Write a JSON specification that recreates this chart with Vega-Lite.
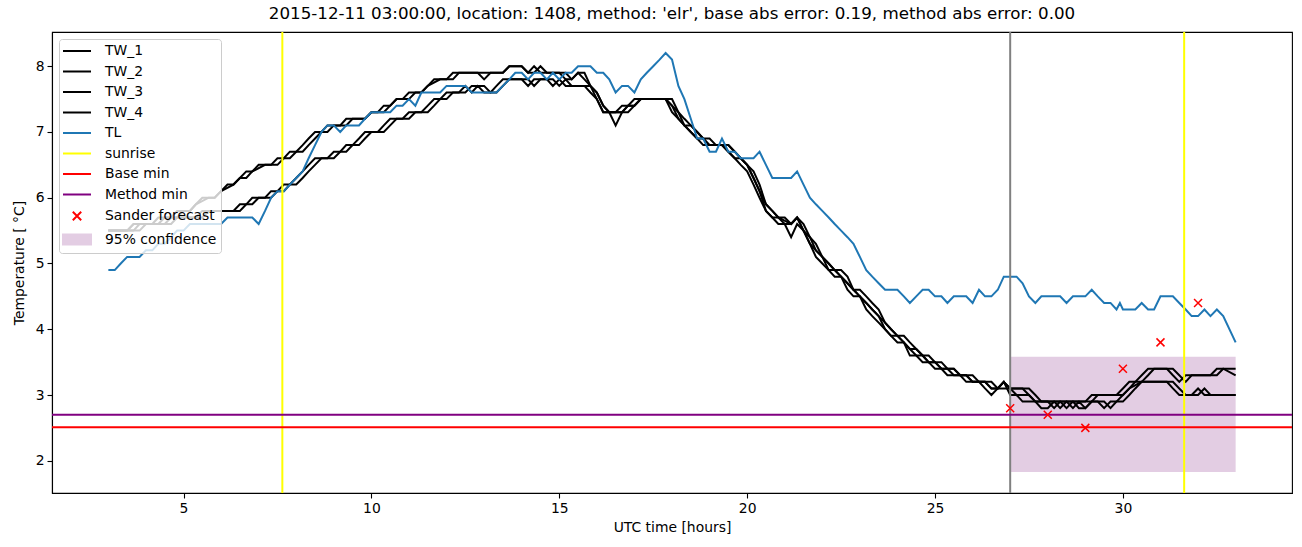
{
  "$schema": "https://vega.github.io/schema/vega-lite/v6.json",
  "width": 1240,
  "height": 461,
  "autosize": {"type": "none"},
  "padding": {"left": 52, "top": 32, "right": 10, "bottom": 54},
  "background": "white",
  "title": {
    "text": "2015-12-11 03:00:00, location: 1408, method: 'elr', base abs error: 0.19, method abs error: 0.00",
    "font": "DejaVu Sans", "fontSize": 16.7, "fontWeight": "normal", "color": "black", "anchor": "middle", "offset": 8
  },
  "config": {
    "view": {"stroke": "black", "strokeWidth": 1.1},
    "axis": {
      "grid": false, "domainColor": "black", "domainWidth": 1.1, "tickColor": "black", "tickWidth": 1.1, "tickSize": 5,
      "labelFont": "DejaVu Sans", "labelFontSize": 13.9, "labelColor": "black", "labelPadding": 3,
      "titleFont": "DejaVu Sans", "titleFontSize": 13.9, "titleFontWeight": "normal", "titleColor": "black"
    },
    "legend": {
      "labelFont": "DejaVu Sans", "labelFontSize": 13.9, "labelColor": "black"
    }
  },
  "datasets": {
    "series": [
      {"label":"TW_1","t":3.0,"v":5.5},{"label":"TW_1","t":3.5,"v":5.5},{"label":"TW_1","t":3.67,"v":5.6},{"label":"TW_1","t":4.17,"v":5.6},{"label":"TW_1","t":4.33,"v":5.7},{"label":"TW_1","t":4.67,"v":5.7},{"label":"TW_1","t":4.83,"v":5.8},{"label":"TW_1","t":5.17,"v":5.8},{"label":"TW_1","t":5.33,"v":5.9},{"label":"TW_1","t":5.5,"v":6.0},{"label":"TW_1","t":5.83,"v":6.0},{"label":"TW_1","t":6.0,"v":6.1},{"label":"TW_1","t":6.17,"v":6.2},{"label":"TW_1","t":6.33,"v":6.2},{"label":"TW_1","t":6.5,"v":6.3},{"label":"TW_1","t":6.67,"v":6.4},{"label":"TW_1","t":6.83,"v":6.4},{"label":"TW_1","t":7.0,"v":6.5},{"label":"TW_1","t":7.33,"v":6.5},{"label":"TW_1","t":7.5,"v":6.6},{"label":"TW_1","t":7.67,"v":6.6},{"label":"TW_1","t":7.83,"v":6.7},{"label":"TW_1","t":8.0,"v":6.7},{"label":"TW_1","t":8.17,"v":6.8},{"label":"TW_1","t":8.33,"v":6.9},{"label":"TW_1","t":8.5,"v":7.0},{"label":"TW_1","t":8.67,"v":7.0},{"label":"TW_1","t":8.83,"v":7.1},{"label":"TW_1","t":9.17,"v":7.1},{"label":"TW_1","t":9.33,"v":7.2},{"label":"TW_1","t":9.83,"v":7.2},{"label":"TW_1","t":10.0,"v":7.3},{"label":"TW_1","t":10.17,"v":7.3},{"label":"TW_1","t":10.33,"v":7.4},{"label":"TW_1","t":10.5,"v":7.4},{"label":"TW_1","t":10.67,"v":7.5},{"label":"TW_1","t":10.83,"v":7.5},{"label":"TW_1","t":11.0,"v":7.6},{"label":"TW_1","t":11.33,"v":7.6},{"label":"TW_1","t":11.5,"v":7.7},{"label":"TW_1","t":11.67,"v":7.8},{"label":"TW_1","t":12.0,"v":7.8},{"label":"TW_1","t":12.17,"v":7.9},{"label":"TW_1","t":12.83,"v":7.9},{"label":"TW_1","t":13.0,"v":7.8},{"label":"TW_1","t":13.17,"v":7.9},{"label":"TW_1","t":13.5,"v":7.9},{"label":"TW_1","t":13.67,"v":8.0},{"label":"TW_1","t":14.0,"v":8.0},{"label":"TW_1","t":14.17,"v":7.9},{"label":"TW_1","t":14.33,"v":7.9},{"label":"TW_1","t":14.5,"v":8.0},{"label":"TW_1","t":14.67,"v":7.9},{"label":"TW_1","t":15.0,"v":7.9},{"label":"TW_1","t":15.17,"v":7.8},{"label":"TW_1","t":15.33,"v":7.8},{"label":"TW_1","t":15.5,"v":7.9},{"label":"TW_1","t":15.67,"v":7.9},{"label":"TW_1","t":15.83,"v":7.7},{"label":"TW_1","t":16.0,"v":7.5},{"label":"TW_1","t":16.17,"v":7.3},{"label":"TW_1","t":16.5,"v":7.3},{"label":"TW_1","t":16.67,"v":7.4},{"label":"TW_1","t":16.83,"v":7.4},{"label":"TW_1","t":17.0,"v":7.5},{"label":"TW_1","t":17.83,"v":7.5},{"label":"TW_1","t":18.0,"v":7.3},{"label":"TW_1","t":18.17,"v":7.2},{"label":"TW_1","t":18.33,"v":7.1},{"label":"TW_1","t":18.5,"v":7.0},{"label":"TW_1","t":18.67,"v":6.9},{"label":"TW_1","t":18.83,"v":6.9},{"label":"TW_1","t":19.0,"v":6.8},{"label":"TW_1","t":19.33,"v":6.8},{"label":"TW_1","t":19.5,"v":6.7},{"label":"TW_1","t":19.67,"v":6.6},{"label":"TW_1","t":19.83,"v":6.6},{"label":"TW_1","t":20.0,"v":6.5},{"label":"TW_1","t":20.17,"v":6.3},{"label":"TW_1","t":20.33,"v":6.1},{"label":"TW_1","t":20.5,"v":5.8},{"label":"TW_1","t":20.67,"v":5.7},{"label":"TW_1","t":20.83,"v":5.7},{"label":"TW_1","t":21.0,"v":5.6},{"label":"TW_1","t":21.17,"v":5.6},{"label":"TW_1","t":21.33,"v":5.7},{"label":"TW_1","t":21.5,"v":5.5},{"label":"TW_1","t":21.67,"v":5.3},{"label":"TW_1","t":21.83,"v":5.2},{"label":"TW_1","t":22.0,"v":5.1},{"label":"TW_1","t":22.17,"v":4.9},{"label":"TW_1","t":22.33,"v":4.9},{"label":"TW_1","t":22.5,"v":4.8},{"label":"TW_1","t":22.67,"v":4.7},{"label":"TW_1","t":22.83,"v":4.6},{"label":"TW_1","t":23.0,"v":4.5},{"label":"TW_1","t":23.17,"v":4.4},{"label":"TW_1","t":23.33,"v":4.3},{"label":"TW_1","t":23.5,"v":4.2},{"label":"TW_1","t":23.67,"v":4.0},{"label":"TW_1","t":23.83,"v":3.9},{"label":"TW_1","t":24.0,"v":3.9},{"label":"TW_1","t":24.17,"v":3.8},{"label":"TW_1","t":24.33,"v":3.7},{"label":"TW_1","t":24.5,"v":3.6},{"label":"TW_1","t":24.67,"v":3.6},{"label":"TW_1","t":24.83,"v":3.5},{"label":"TW_1","t":25.0,"v":3.5},{"label":"TW_1","t":25.17,"v":3.4},{"label":"TW_1","t":25.33,"v":3.4},{"label":"TW_1","t":25.5,"v":3.3},{"label":"TW_1","t":25.83,"v":3.3},{"label":"TW_1","t":26.0,"v":3.2},{"label":"TW_1","t":26.33,"v":3.2},{"label":"TW_1","t":26.5,"v":3.1},{"label":"TW_1","t":26.67,"v":3.1},{"label":"TW_1","t":26.83,"v":3.2},{"label":"TW_1","t":27.0,"v":3.1},{"label":"TW_1","t":27.33,"v":3.1},{"label":"TW_1","t":27.5,"v":3.0},{"label":"TW_1","t":27.67,"v":2.9},{"label":"TW_1","t":28.17,"v":2.9},{"label":"TW_1","t":28.33,"v":2.8},{"label":"TW_1","t":28.5,"v":2.9},{"label":"TW_1","t":29.0,"v":2.9},{"label":"TW_1","t":29.17,"v":3.0},{"label":"TW_1","t":29.83,"v":3.0},{"label":"TW_1","t":30.0,"v":3.1},{"label":"TW_1","t":30.17,"v":3.2},{"label":"TW_1","t":30.33,"v":3.2},{"label":"TW_1","t":30.5,"v":3.3},{"label":"TW_1","t":30.67,"v":3.4},{"label":"TW_1","t":31.17,"v":3.4},{"label":"TW_1","t":31.33,"v":3.3},{"label":"TW_1","t":31.5,"v":3.2},{"label":"TW_1","t":31.67,"v":3.3},{"label":"TW_1","t":32.33,"v":3.3},{"label":"TW_1","t":32.5,"v":3.4},{"label":"TW_1","t":32.83,"v":3.4},{"label":"TW_1","t":33.0,"v":3.4},

      {"label":"TW_2","t":3.0,"v":5.5},{"label":"TW_2","t":3.5,"v":5.5},{"label":"TW_2","t":3.67,"v":5.6},{"label":"TW_2","t":4.33,"v":5.6},{"label":"TW_2","t":4.5,"v":5.7},{"label":"TW_2","t":4.83,"v":5.7},{"label":"TW_2","t":5.0,"v":5.8},{"label":"TW_2","t":5.17,"v":5.8},{"label":"TW_2","t":5.33,"v":5.9},{"label":"TW_2","t":5.67,"v":6.0},{"label":"TW_2","t":5.83,"v":6.0},{"label":"TW_2","t":6.0,"v":6.1},{"label":"TW_2","t":6.33,"v":6.2},{"label":"TW_2","t":6.5,"v":6.3},{"label":"TW_2","t":6.67,"v":6.3},{"label":"TW_2","t":6.83,"v":6.4},{"label":"TW_2","t":7.17,"v":6.5},{"label":"TW_2","t":7.5,"v":6.5},{"label":"TW_2","t":7.67,"v":6.6},{"label":"TW_2","t":7.83,"v":6.6},{"label":"TW_2","t":8.0,"v":6.7},{"label":"TW_2","t":8.17,"v":6.7},{"label":"TW_2","t":8.33,"v":6.8},{"label":"TW_2","t":8.5,"v":6.9},{"label":"TW_2","t":8.67,"v":7.0},{"label":"TW_2","t":8.83,"v":7.0},{"label":"TW_2","t":9.0,"v":7.1},{"label":"TW_2","t":9.33,"v":7.1},{"label":"TW_2","t":9.5,"v":7.2},{"label":"TW_2","t":9.83,"v":7.2},{"label":"TW_2","t":10.0,"v":7.3},{"label":"TW_2","t":10.33,"v":7.3},{"label":"TW_2","t":10.5,"v":7.4},{"label":"TW_2","t":10.67,"v":7.5},{"label":"TW_2","t":11.0,"v":7.5},{"label":"TW_2","t":11.17,"v":7.6},{"label":"TW_2","t":11.33,"v":7.6},{"label":"TW_2","t":11.5,"v":7.7},{"label":"TW_2","t":11.83,"v":7.8},{"label":"TW_2","t":12.17,"v":7.8},{"label":"TW_2","t":12.33,"v":7.9},{"label":"TW_2","t":13.5,"v":7.9},{"label":"TW_2","t":13.67,"v":8.0},{"label":"TW_2","t":14.0,"v":8.0},{"label":"TW_2","t":14.17,"v":7.9},{"label":"TW_2","t":14.33,"v":8.0},{"label":"TW_2","t":14.5,"v":7.9},{"label":"TW_2","t":15.17,"v":7.9},{"label":"TW_2","t":15.33,"v":7.8},{"label":"TW_2","t":15.5,"v":7.9},{"label":"TW_2","t":15.67,"v":7.8},{"label":"TW_2","t":15.83,"v":7.7},{"label":"TW_2","t":16.0,"v":7.6},{"label":"TW_2","t":16.17,"v":7.4},{"label":"TW_2","t":16.33,"v":7.3},{"label":"TW_2","t":16.67,"v":7.3},{"label":"TW_2","t":16.83,"v":7.4},{"label":"TW_2","t":17.0,"v":7.4},{"label":"TW_2","t":17.17,"v":7.5},{"label":"TW_2","t":17.83,"v":7.5},{"label":"TW_2","t":18.0,"v":7.4},{"label":"TW_2","t":18.17,"v":7.3},{"label":"TW_2","t":18.33,"v":7.1},{"label":"TW_2","t":18.5,"v":7.1},{"label":"TW_2","t":18.67,"v":7.0},{"label":"TW_2","t":18.83,"v":6.9},{"label":"TW_2","t":19.0,"v":6.9},{"label":"TW_2","t":19.17,"v":6.8},{"label":"TW_2","t":19.5,"v":6.8},{"label":"TW_2","t":19.67,"v":6.7},{"label":"TW_2","t":19.83,"v":6.6},{"label":"TW_2","t":20.0,"v":6.5},{"label":"TW_2","t":20.17,"v":6.4},{"label":"TW_2","t":20.33,"v":6.2},{"label":"TW_2","t":20.5,"v":5.9},{"label":"TW_2","t":20.67,"v":5.8},{"label":"TW_2","t":20.83,"v":5.7},{"label":"TW_2","t":21.0,"v":5.7},{"label":"TW_2","t":21.17,"v":5.6},{"label":"TW_2","t":21.33,"v":5.7},{"label":"TW_2","t":21.5,"v":5.6},{"label":"TW_2","t":21.67,"v":5.4},{"label":"TW_2","t":21.83,"v":5.3},{"label":"TW_2","t":22.0,"v":5.1},{"label":"TW_2","t":22.17,"v":5.0},{"label":"TW_2","t":22.33,"v":4.9},{"label":"TW_2","t":22.5,"v":4.9},{"label":"TW_2","t":22.67,"v":4.8},{"label":"TW_2","t":22.83,"v":4.6},{"label":"TW_2","t":23.0,"v":4.6},{"label":"TW_2","t":23.17,"v":4.5},{"label":"TW_2","t":23.33,"v":4.4},{"label":"TW_2","t":23.5,"v":4.3},{"label":"TW_2","t":23.67,"v":4.1},{"label":"TW_2","t":23.83,"v":4.0},{"label":"TW_2","t":24.0,"v":3.9},{"label":"TW_2","t":24.17,"v":3.9},{"label":"TW_2","t":24.33,"v":3.8},{"label":"TW_2","t":24.5,"v":3.7},{"label":"TW_2","t":24.67,"v":3.6},{"label":"TW_2","t":24.83,"v":3.6},{"label":"TW_2","t":25.0,"v":3.5},{"label":"TW_2","t":25.17,"v":3.5},{"label":"TW_2","t":25.33,"v":3.4},{"label":"TW_2","t":25.5,"v":3.4},{"label":"TW_2","t":25.67,"v":3.3},{"label":"TW_2","t":26.0,"v":3.3},{"label":"TW_2","t":26.17,"v":3.2},{"label":"TW_2","t":26.5,"v":3.2},{"label":"TW_2","t":26.67,"v":3.1},{"label":"TW_2","t":26.83,"v":3.2},{"label":"TW_2","t":27.0,"v":3.1},{"label":"TW_2","t":27.5,"v":3.1},{"label":"TW_2","t":27.67,"v":3.0},{"label":"TW_2","t":27.83,"v":2.9},{"label":"TW_2","t":28.33,"v":2.9},{"label":"TW_2","t":28.5,"v":2.8},{"label":"TW_2","t":28.67,"v":2.9},{"label":"TW_2","t":29.17,"v":2.9},{"label":"TW_2","t":29.33,"v":3.0},{"label":"TW_2","t":30.0,"v":3.0},{"label":"TW_2","t":30.17,"v":3.1},{"label":"TW_2","t":30.33,"v":3.2},{"label":"TW_2","t":30.5,"v":3.2},{"label":"TW_2","t":30.67,"v":3.3},{"label":"TW_2","t":30.83,"v":3.4},{"label":"TW_2","t":31.33,"v":3.4},{"label":"TW_2","t":31.5,"v":3.3},{"label":"TW_2","t":31.67,"v":3.2},{"label":"TW_2","t":31.83,"v":3.3},{"label":"TW_2","t":32.5,"v":3.3},{"label":"TW_2","t":32.67,"v":3.4},{"label":"TW_2","t":33.0,"v":3.3},

      {"label":"TW_3","t":3.0,"v":5.5},{"label":"TW_3","t":3.67,"v":5.5},{"label":"TW_3","t":3.83,"v":5.6},{"label":"TW_3","t":4.5,"v":5.6},{"label":"TW_3","t":4.67,"v":5.7},{"label":"TW_3","t":5.33,"v":5.7},{"label":"TW_3","t":5.5,"v":5.8},{"label":"TW_3","t":6.33,"v":5.8},{"label":"TW_3","t":6.5,"v":5.9},{"label":"TW_3","t":6.67,"v":5.9},{"label":"TW_3","t":6.83,"v":6.0},{"label":"TW_3","t":7.17,"v":6.0},{"label":"TW_3","t":7.33,"v":6.1},{"label":"TW_3","t":7.5,"v":6.1},{"label":"TW_3","t":7.67,"v":6.2},{"label":"TW_3","t":7.83,"v":6.2},{"label":"TW_3","t":8.0,"v":6.3},{"label":"TW_3","t":8.17,"v":6.4},{"label":"TW_3","t":8.33,"v":6.5},{"label":"TW_3","t":8.5,"v":6.6},{"label":"TW_3","t":8.83,"v":6.6},{"label":"TW_3","t":9.0,"v":6.7},{"label":"TW_3","t":9.17,"v":6.7},{"label":"TW_3","t":9.33,"v":6.8},{"label":"TW_3","t":9.5,"v":6.8},{"label":"TW_3","t":9.67,"v":6.9},{"label":"TW_3","t":9.83,"v":7.0},{"label":"TW_3","t":10.17,"v":7.0},{"label":"TW_3","t":10.33,"v":7.1},{"label":"TW_3","t":10.5,"v":7.2},{"label":"TW_3","t":10.83,"v":7.2},{"label":"TW_3","t":11.0,"v":7.3},{"label":"TW_3","t":11.33,"v":7.3},{"label":"TW_3","t":11.5,"v":7.4},{"label":"TW_3","t":11.67,"v":7.5},{"label":"TW_3","t":11.83,"v":7.5},{"label":"TW_3","t":12.0,"v":7.6},{"label":"TW_3","t":12.33,"v":7.6},{"label":"TW_3","t":12.5,"v":7.7},{"label":"TW_3","t":12.67,"v":7.6},{"label":"TW_3","t":12.83,"v":7.7},{"label":"TW_3","t":13.0,"v":7.6},{"label":"TW_3","t":13.17,"v":7.6},{"label":"TW_3","t":13.33,"v":7.7},{"label":"TW_3","t":13.5,"v":7.8},{"label":"TW_3","t":14.0,"v":7.8},{"label":"TW_3","t":14.17,"v":7.7},{"label":"TW_3","t":14.33,"v":7.8},{"label":"TW_3","t":14.83,"v":7.8},{"label":"TW_3","t":15.0,"v":7.7},{"label":"TW_3","t":15.17,"v":7.8},{"label":"TW_3","t":15.33,"v":7.7},{"label":"TW_3","t":15.67,"v":7.7},{"label":"TW_3","t":15.83,"v":7.6},{"label":"TW_3","t":16.0,"v":7.5},{"label":"TW_3","t":16.17,"v":7.3},{"label":"TW_3","t":16.33,"v":7.3},{"label":"TW_3","t":16.5,"v":7.1},{"label":"TW_3","t":16.67,"v":7.3},{"label":"TW_3","t":16.83,"v":7.4},{"label":"TW_3","t":17.0,"v":7.4},{"label":"TW_3","t":17.17,"v":7.5},{"label":"TW_3","t":17.83,"v":7.5},{"label":"TW_3","t":18.0,"v":7.4},{"label":"TW_3","t":18.17,"v":7.2},{"label":"TW_3","t":18.33,"v":7.1},{"label":"TW_3","t":18.5,"v":7.0},{"label":"TW_3","t":18.67,"v":6.9},{"label":"TW_3","t":18.83,"v":6.8},{"label":"TW_3","t":19.33,"v":6.8},{"label":"TW_3","t":19.5,"v":6.7},{"label":"TW_3","t":19.67,"v":6.6},{"label":"TW_3","t":19.83,"v":6.5},{"label":"TW_3","t":20.0,"v":6.4},{"label":"TW_3","t":20.17,"v":6.2},{"label":"TW_3","t":20.33,"v":6.0},{"label":"TW_3","t":20.5,"v":5.8},{"label":"TW_3","t":20.67,"v":5.7},{"label":"TW_3","t":20.83,"v":5.6},{"label":"TW_3","t":21.0,"v":5.6},{"label":"TW_3","t":21.17,"v":5.4},{"label":"TW_3","t":21.33,"v":5.6},{"label":"TW_3","t":21.5,"v":5.5},{"label":"TW_3","t":21.67,"v":5.3},{"label":"TW_3","t":21.83,"v":5.1},{"label":"TW_3","t":22.0,"v":5.0},{"label":"TW_3","t":22.17,"v":4.9},{"label":"TW_3","t":22.33,"v":4.8},{"label":"TW_3","t":22.5,"v":4.8},{"label":"TW_3","t":22.67,"v":4.6},{"label":"TW_3","t":22.83,"v":4.5},{"label":"TW_3","t":23.0,"v":4.5},{"label":"TW_3","t":23.17,"v":4.3},{"label":"TW_3","t":23.33,"v":4.2},{"label":"TW_3","t":23.5,"v":4.1},{"label":"TW_3","t":23.67,"v":4.0},{"label":"TW_3","t":23.83,"v":3.9},{"label":"TW_3","t":24.0,"v":3.8},{"label":"TW_3","t":24.17,"v":3.8},{"label":"TW_3","t":24.33,"v":3.6},{"label":"TW_3","t":24.5,"v":3.6},{"label":"TW_3","t":24.67,"v":3.5},{"label":"TW_3","t":24.83,"v":3.5},{"label":"TW_3","t":25.0,"v":3.4},{"label":"TW_3","t":25.17,"v":3.4},{"label":"TW_3","t":25.33,"v":3.3},{"label":"TW_3","t":25.67,"v":3.3},{"label":"TW_3","t":25.83,"v":3.2},{"label":"TW_3","t":26.17,"v":3.2},{"label":"TW_3","t":26.33,"v":3.1},{"label":"TW_3","t":26.5,"v":3.0},{"label":"TW_3","t":26.67,"v":3.1},{"label":"TW_3","t":26.83,"v":3.2},{"label":"TW_3","t":27.0,"v":3.0},{"label":"TW_3","t":27.17,"v":3.0},{"label":"TW_3","t":27.33,"v":2.9},{"label":"TW_3","t":27.67,"v":2.9},{"label":"TW_3","t":27.83,"v":2.8},{"label":"TW_3","t":28.0,"v":2.8},{"label":"TW_3","t":28.17,"v":2.9},{"label":"TW_3","t":28.5,"v":2.9},{"label":"TW_3","t":28.67,"v":2.8},{"label":"TW_3","t":28.83,"v":2.9},{"label":"TW_3","t":29.0,"v":2.8},{"label":"TW_3","t":29.17,"v":2.9},{"label":"TW_3","t":29.33,"v":2.9},{"label":"TW_3","t":29.5,"v":2.8},{"label":"TW_3","t":29.67,"v":2.9},{"label":"TW_3","t":29.83,"v":2.9},{"label":"TW_3","t":30.0,"v":3.0},{"label":"TW_3","t":30.17,"v":3.1},{"label":"TW_3","t":30.5,"v":3.2},{"label":"TW_3","t":31.17,"v":3.2},{"label":"TW_3","t":31.33,"v":3.1},{"label":"TW_3","t":31.5,"v":3.0},{"label":"TW_3","t":31.83,"v":3.0},{"label":"TW_3","t":32.0,"v":3.1},{"label":"TW_3","t":32.17,"v":3.0},{"label":"TW_3","t":33.0,"v":3.0},

      {"label":"TW_4","t":3.0,"v":5.5},{"label":"TW_4","t":3.83,"v":5.5},{"label":"TW_4","t":4.0,"v":5.6},{"label":"TW_4","t":4.67,"v":5.6},{"label":"TW_4","t":4.83,"v":5.7},{"label":"TW_4","t":5.5,"v":5.7},{"label":"TW_4","t":5.67,"v":5.8},{"label":"TW_4","t":6.5,"v":5.8},{"label":"TW_4","t":6.67,"v":5.9},{"label":"TW_4","t":6.83,"v":5.9},{"label":"TW_4","t":7.0,"v":6.0},{"label":"TW_4","t":7.33,"v":6.0},{"label":"TW_4","t":7.5,"v":6.1},{"label":"TW_4","t":7.67,"v":6.1},{"label":"TW_4","t":7.83,"v":6.2},{"label":"TW_4","t":8.0,"v":6.2},{"label":"TW_4","t":8.17,"v":6.3},{"label":"TW_4","t":8.33,"v":6.4},{"label":"TW_4","t":8.5,"v":6.5},{"label":"TW_4","t":8.67,"v":6.6},{"label":"TW_4","t":9.0,"v":6.6},{"label":"TW_4","t":9.17,"v":6.7},{"label":"TW_4","t":9.33,"v":6.7},{"label":"TW_4","t":9.5,"v":6.8},{"label":"TW_4","t":9.67,"v":6.8},{"label":"TW_4","t":9.83,"v":6.9},{"label":"TW_4","t":10.0,"v":7.0},{"label":"TW_4","t":10.33,"v":7.0},{"label":"TW_4","t":10.5,"v":7.1},{"label":"TW_4","t":10.67,"v":7.2},{"label":"TW_4","t":11.0,"v":7.2},{"label":"TW_4","t":11.17,"v":7.3},{"label":"TW_4","t":11.5,"v":7.3},{"label":"TW_4","t":11.67,"v":7.4},{"label":"TW_4","t":11.83,"v":7.5},{"label":"TW_4","t":12.0,"v":7.5},{"label":"TW_4","t":12.17,"v":7.6},{"label":"TW_4","t":12.5,"v":7.6},{"label":"TW_4","t":12.67,"v":7.7},{"label":"TW_4","t":13.0,"v":7.7},{"label":"TW_4","t":13.17,"v":7.6},{"label":"TW_4","t":13.33,"v":7.6},{"label":"TW_4","t":13.5,"v":7.7},{"label":"TW_4","t":13.67,"v":7.8},{"label":"TW_4","t":14.17,"v":7.8},{"label":"TW_4","t":14.33,"v":7.7},{"label":"TW_4","t":14.5,"v":7.8},{"label":"TW_4","t":14.67,"v":7.8},{"label":"TW_4","t":14.83,"v":7.7},{"label":"TW_4","t":15.0,"v":7.8},{"label":"TW_4","t":15.17,"v":7.7},{"label":"TW_4","t":15.83,"v":7.7},{"label":"TW_4","t":16.0,"v":7.6},{"label":"TW_4","t":16.17,"v":7.4},{"label":"TW_4","t":16.33,"v":7.3},{"label":"TW_4","t":16.83,"v":7.3},{"label":"TW_4","t":17.0,"v":7.4},{"label":"TW_4","t":17.17,"v":7.5},{"label":"TW_4","t":18.0,"v":7.5},{"label":"TW_4","t":18.17,"v":7.3},{"label":"TW_4","t":18.33,"v":7.2},{"label":"TW_4","t":18.5,"v":7.1},{"label":"TW_4","t":18.67,"v":7.0},{"label":"TW_4","t":18.83,"v":6.9},{"label":"TW_4","t":19.0,"v":6.8},{"label":"TW_4","t":19.5,"v":6.8},{"label":"TW_4","t":19.67,"v":6.7},{"label":"TW_4","t":19.83,"v":6.6},{"label":"TW_4","t":20.0,"v":6.5},{"label":"TW_4","t":20.17,"v":6.3},{"label":"TW_4","t":20.33,"v":6.1},{"label":"TW_4","t":20.5,"v":5.9},{"label":"TW_4","t":20.67,"v":5.8},{"label":"TW_4","t":20.83,"v":5.7},{"label":"TW_4","t":21.17,"v":5.6},{"label":"TW_4","t":21.33,"v":5.7},{"label":"TW_4","t":21.5,"v":5.5},{"label":"TW_4","t":21.67,"v":5.4},{"label":"TW_4","t":21.83,"v":5.2},{"label":"TW_4","t":22.0,"v":5.1},{"label":"TW_4","t":22.17,"v":5.0},{"label":"TW_4","t":22.33,"v":4.9},{"label":"TW_4","t":22.5,"v":4.8},{"label":"TW_4","t":22.67,"v":4.7},{"label":"TW_4","t":22.83,"v":4.6},{"label":"TW_4","t":23.0,"v":4.5},{"label":"TW_4","t":23.17,"v":4.4},{"label":"TW_4","t":23.33,"v":4.3},{"label":"TW_4","t":23.5,"v":4.2},{"label":"TW_4","t":23.67,"v":4.1},{"label":"TW_4","t":23.83,"v":4.0},{"label":"TW_4","t":24.0,"v":3.9},{"label":"TW_4","t":24.17,"v":3.8},{"label":"TW_4","t":24.33,"v":3.7},{"label":"TW_4","t":24.5,"v":3.7},{"label":"TW_4","t":24.67,"v":3.6},{"label":"TW_4","t":24.83,"v":3.5},{"label":"TW_4","t":25.0,"v":3.5},{"label":"TW_4","t":25.17,"v":3.4},{"label":"TW_4","t":25.5,"v":3.4},{"label":"TW_4","t":25.67,"v":3.3},{"label":"TW_4","t":25.83,"v":3.3},{"label":"TW_4","t":26.0,"v":3.2},{"label":"TW_4","t":26.33,"v":3.2},{"label":"TW_4","t":26.5,"v":3.1},{"label":"TW_4","t":27.0,"v":3.1},{"label":"TW_4","t":27.17,"v":3.0},{"label":"TW_4","t":27.5,"v":3.0},{"label":"TW_4","t":27.67,"v":2.9},{"label":"TW_4","t":28.0,"v":2.9},{"label":"TW_4","t":28.17,"v":2.8},{"label":"TW_4","t":28.33,"v":2.9},{"label":"TW_4","t":28.67,"v":2.9},{"label":"TW_4","t":28.83,"v":2.8},{"label":"TW_4","t":29.0,"v":2.8},{"label":"TW_4","t":29.17,"v":2.9},{"label":"TW_4","t":29.5,"v":2.9},{"label":"TW_4","t":29.67,"v":2.8},{"label":"TW_4","t":29.83,"v":2.9},{"label":"TW_4","t":30.0,"v":2.9},{"label":"TW_4","t":30.17,"v":3.0},{"label":"TW_4","t":30.33,"v":3.1},{"label":"TW_4","t":30.5,"v":3.2},{"label":"TW_4","t":31.33,"v":3.2},{"label":"TW_4","t":31.5,"v":3.1},{"label":"TW_4","t":31.67,"v":3.0},{"label":"TW_4","t":32.0,"v":3.0},{"label":"TW_4","t":32.17,"v":3.1},{"label":"TW_4","t":32.33,"v":3.0},{"label":"TW_4","t":33.0,"v":3.0},

      {"label":"TL","t":3.0,"v":4.9},{"label":"TL","t":3.17,"v":4.9},{"label":"TL","t":3.33,"v":5.0},{"label":"TL","t":3.5,"v":5.1},{"label":"TL","t":3.83,"v":5.1},{"label":"TL","t":4.0,"v":5.2},{"label":"TL","t":4.17,"v":5.2},{"label":"TL","t":4.33,"v":5.3},{"label":"TL","t":4.5,"v":5.3},{"label":"TL","t":4.67,"v":5.4},{"label":"TL","t":4.83,"v":5.5},{"label":"TL","t":5.0,"v":5.5},{"label":"TL","t":5.17,"v":5.6},{"label":"TL","t":6.0,"v":5.6},{"label":"TL","t":6.17,"v":5.7},{"label":"TL","t":6.83,"v":5.7},{"label":"TL","t":7.0,"v":5.6},{"label":"TL","t":7.17,"v":5.8},{"label":"TL","t":7.33,"v":6.0},{"label":"TL","t":7.5,"v":6.1},{"label":"TL","t":7.67,"v":6.1},{"label":"TL","t":7.83,"v":6.2},{"label":"TL","t":8.0,"v":6.3},{"label":"TL","t":8.17,"v":6.4},{"label":"TL","t":8.33,"v":6.6},{"label":"TL","t":8.5,"v":6.8},{"label":"TL","t":8.67,"v":7.0},{"label":"TL","t":8.83,"v":7.1},{"label":"TL","t":9.0,"v":7.1},{"label":"TL","t":9.17,"v":7.0},{"label":"TL","t":9.33,"v":7.1},{"label":"TL","t":9.67,"v":7.1},{"label":"TL","t":9.83,"v":7.2},{"label":"TL","t":10.0,"v":7.3},{"label":"TL","t":10.5,"v":7.3},{"label":"TL","t":10.67,"v":7.4},{"label":"TL","t":10.83,"v":7.4},{"label":"TL","t":11.0,"v":7.5},{"label":"TL","t":11.17,"v":7.4},{"label":"TL","t":11.33,"v":7.6},{"label":"TL","t":11.83,"v":7.6},{"label":"TL","t":12.0,"v":7.7},{"label":"TL","t":12.5,"v":7.7},{"label":"TL","t":12.67,"v":7.6},{"label":"TL","t":13.33,"v":7.6},{"label":"TL","t":13.5,"v":7.7},{"label":"TL","t":13.67,"v":7.8},{"label":"TL","t":13.83,"v":7.9},{"label":"TL","t":14.0,"v":7.9},{"label":"TL","t":14.17,"v":7.8},{"label":"TL","t":14.33,"v":7.9},{"label":"TL","t":14.5,"v":7.9},{"label":"TL","t":14.67,"v":7.8},{"label":"TL","t":14.83,"v":7.9},{"label":"TL","t":15.0,"v":7.8},{"label":"TL","t":15.17,"v":7.9},{"label":"TL","t":15.33,"v":7.9},{"label":"TL","t":15.5,"v":8.0},{"label":"TL","t":15.83,"v":8.0},{"label":"TL","t":16.0,"v":7.9},{"label":"TL","t":16.17,"v":7.9},{"label":"TL","t":16.33,"v":7.8},{"label":"TL","t":16.5,"v":7.6},{"label":"TL","t":16.67,"v":7.7},{"label":"TL","t":16.83,"v":7.7},{"label":"TL","t":17.0,"v":7.6},{"label":"TL","t":17.17,"v":7.8},{"label":"TL","t":17.33,"v":7.9},{"label":"TL","t":17.5,"v":8.0},{"label":"TL","t":17.67,"v":8.1},{"label":"TL","t":17.83,"v":8.2},{"label":"TL","t":18.0,"v":8.1},{"label":"TL","t":18.17,"v":7.7},{"label":"TL","t":18.33,"v":7.5},{"label":"TL","t":18.5,"v":7.2},{"label":"TL","t":18.67,"v":6.9},{"label":"TL","t":18.83,"v":6.9},{"label":"TL","t":19.0,"v":6.7},{"label":"TL","t":19.17,"v":6.7},{"label":"TL","t":19.33,"v":6.9},{"label":"TL","t":19.5,"v":6.7},{"label":"TL","t":19.67,"v":6.7},{"label":"TL","t":19.83,"v":6.6},{"label":"TL","t":20.17,"v":6.6},{"label":"TL","t":20.33,"v":6.7},{"label":"TL","t":20.5,"v":6.5},{"label":"TL","t":20.67,"v":6.3},{"label":"TL","t":21.17,"v":6.3},{"label":"TL","t":21.33,"v":6.4},{"label":"TL","t":21.5,"v":6.2},{"label":"TL","t":21.67,"v":6.0},{"label":"TL","t":21.83,"v":5.9},{"label":"TL","t":22.0,"v":5.8},{"label":"TL","t":22.17,"v":5.7},{"label":"TL","t":22.33,"v":5.6},{"label":"TL","t":22.5,"v":5.5},{"label":"TL","t":22.67,"v":5.4},{"label":"TL","t":22.83,"v":5.3},{"label":"TL","t":23.0,"v":5.1},{"label":"TL","t":23.17,"v":4.9},{"label":"TL","t":23.33,"v":4.8},{"label":"TL","t":23.5,"v":4.7},{"label":"TL","t":23.67,"v":4.6},{"label":"TL","t":24.0,"v":4.6},{"label":"TL","t":24.17,"v":4.5},{"label":"TL","t":24.33,"v":4.4},{"label":"TL","t":24.5,"v":4.5},{"label":"TL","t":24.67,"v":4.6},{"label":"TL","t":24.83,"v":4.6},{"label":"TL","t":25.0,"v":4.5},{"label":"TL","t":25.17,"v":4.5},{"label":"TL","t":25.33,"v":4.4},{"label":"TL","t":25.5,"v":4.5},{"label":"TL","t":25.83,"v":4.5},{"label":"TL","t":26.0,"v":4.4},{"label":"TL","t":26.17,"v":4.6},{"label":"TL","t":26.33,"v":4.5},{"label":"TL","t":26.5,"v":4.5},{"label":"TL","t":26.67,"v":4.6},{"label":"TL","t":26.83,"v":4.8},{"label":"TL","t":27.17,"v":4.8},{"label":"TL","t":27.33,"v":4.7},{"label":"TL","t":27.5,"v":4.5},{"label":"TL","t":27.67,"v":4.4},{"label":"TL","t":27.83,"v":4.5},{"label":"TL","t":28.33,"v":4.5},{"label":"TL","t":28.5,"v":4.4},{"label":"TL","t":28.67,"v":4.5},{"label":"TL","t":29.0,"v":4.5},{"label":"TL","t":29.17,"v":4.6},{"label":"TL","t":29.33,"v":4.5},{"label":"TL","t":29.5,"v":4.4},{"label":"TL","t":29.67,"v":4.4},{"label":"TL","t":29.83,"v":4.3},{"label":"TL","t":29.92,"v":4.4},{"label":"TL","t":30.0,"v":4.3},{"label":"TL","t":30.33,"v":4.3},{"label":"TL","t":30.5,"v":4.4},{"label":"TL","t":30.67,"v":4.3},{"label":"TL","t":30.83,"v":4.3},{"label":"TL","t":31.0,"v":4.5},{"label":"TL","t":31.33,"v":4.5},{"label":"TL","t":31.5,"v":4.4},{"label":"TL","t":31.67,"v":4.3},{"label":"TL","t":31.83,"v":4.2},{"label":"TL","t":32.0,"v":4.2},{"label":"TL","t":32.17,"v":4.3},{"label":"TL","t":32.33,"v":4.2},{"label":"TL","t":32.5,"v":4.3},{"label":"TL","t":32.67,"v":4.2},{"label":"TL","t":33.0,"v":3.8}
    ],
    "conf": [{"label": "95% confidence", "t": 27, "t2": 33, "lo": 1.83, "hi": 3.58}],
    "sunrise": [{"label": "sunrise", "t": 7.63}, {"label": "sunrise", "t": 31.63}],
    "now": [{"t": 27}],
    "mins": [{"label": "Base min", "v": 2.51}, {"label": "Method min", "v": 2.70}],
    "forecast": [
      {"label": "Sander forecast", "t": 27, "v": 2.8},
      {"label": "Sander forecast", "t": 28, "v": 2.7},
      {"label": "Sander forecast", "t": 29, "v": 2.5},
      {"label": "Sander forecast", "t": 30, "v": 3.4},
      {"label": "Sander forecast", "t": 31, "v": 3.8},
      {"label": "Sander forecast", "t": 32, "v": 4.4}
    ]
  },
  "encoding": {
    "x": {"field": "t", "type": "quantitative", "scale": {"domain": [1.5, 34.5], "nice": false, "zero": false},
          "axis": {"values": [5, 10, 15, 20, 25, 30], "format": "d", "title": "UTC time [hours]", "titlePadding": 6}},
    "y": {"field": "v", "type": "quantitative", "scale": {"domain": [1.51, 8.52], "nice": false, "zero": false},
          "axis": {"values": [2, 3, 4, 5, 6, 7, 8], "format": "d", "title": "Temperature [ °C]", "titlePadding": 9}}
  },
  "layer": [
    {
      "data": {"name": "conf"},
      "mark": {"type": "rect"},
      "encoding": {
        "x": {"field": "t", "type": "quantitative"},
        "x2": {"field": "t2"},
        "y": {"field": "lo", "type": "quantitative"},
        "y2": {"field": "hi"},
        "color": {
          "field": "label", "type": "nominal",
          "scale": {
            "domain": ["TW_1", "TW_2", "TW_3", "TW_4", "TL", "sunrise", "Base min", "Method min", "Sander forecast", "95% confidence"],
            "range": ["black", "black", "black", "black", "#1f77b4", "yellow", "red", "purple", "red", "#e3cde3"]
          },
          "legend": {
            "title": null,
            "orient": "top-left",
            "offset": 7,
            "padding": 4,
            "strokeColor": "#cccccc",
            "fillColor": "rgba(255,255,255,0.8)",
            "cornerRadius": 3,
            "symbolSize": 196,
            "symbolStrokeWidth": 2,
            "symbolOffset": 6,
            "labelOffset": 20,
            "rowPadding": 5.5,
            "labelFont": "DejaVu Sans",
            "labelFontSize": 13.9,
            "labelColor": "black",
            "encode": {
              "symbols": {
                "update": {
                  "shape": {"signal": "datum.value === 'Sander forecast' ? 'M-0.6,-0.6L0.6,0.6M-0.6,0.6L0.6,-0.6' : (datum.value === '95% confidence' ? 'M-2,-0.7L2,-0.7L2,0.7L-2,0.7Z' : 'M-2,0L2,0')"},
                  "fill": {"signal": "datum.value === '95% confidence' ? '#e3cde3' : 'transparent'"},
                  "stroke": {"signal": "datum.value === '95% confidence' ? 'transparent' : scale('color', datum.value)"},
                  "strokeWidth": {"value": 2},
                  "size": {"value": 196},
                  "opacity": {"value": 1},
                  "fillOpacity": {"value": 1},
                  "strokeOpacity": {"value": 1}
                }
              }
            }
          }
        }
      }
    },
    {
      "data": {"name": "series"},
      "mark": {"type": "line", "strokeWidth": 2},
      "encoding": {
        "color": {"field": "label", "type": "nominal"}
      }
    },
    {
      "data": {"name": "sunrise"},
      "mark": {"type": "rule", "strokeWidth": 2},
      "encoding": {
        "x": {"field": "t", "type": "quantitative"},
        "y": null,
        "color": {"field": "label", "type": "nominal"}
      }
    },
    {
      "data": {"name": "now"},
      "mark": {"type": "rule", "strokeWidth": 2, "color": "gray"},
      "encoding": {
        "x": {"field": "t", "type": "quantitative"},
        "y": null
      }
    },
    {
      "data": {"name": "mins"},
      "mark": {"type": "rule", "strokeWidth": 2},
      "encoding": {
        "x": null,
        "y": {"field": "v", "type": "quantitative"},
        "color": {"field": "label", "type": "nominal"}
      }
    },
    {
      "data": {"name": "forecast"},
      "mark": {"type": "point", "shape": "M-1,-1L1,1M-1,1L1,-1", "size": 64, "filled": false, "strokeWidth": 1.5, "opacity": 1},
      "encoding": {
        "color": {"field": "label", "type": "nominal"}
      }
    }
  ]
}
